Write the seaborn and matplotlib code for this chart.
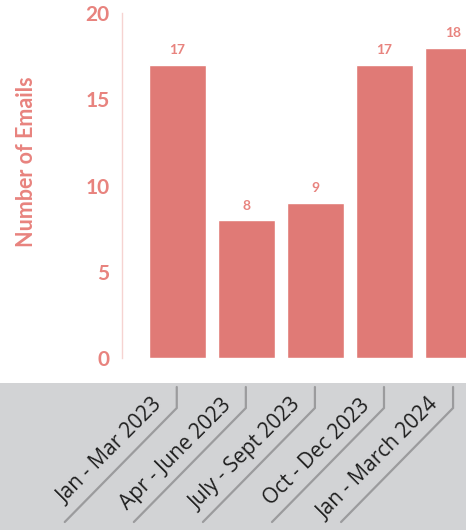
import matplotlib
matplotlib.use("Agg")
import matplotlib.pyplot as plt
import matplotlib.transforms as mtransforms
from matplotlib.lines import Line2D
from matplotlib.patches import Rectangle
import seaborn as sns
import pandas as pd

quarters = ["Jan - Mar 2023", "Apr - June 2023", "July - Sept 2023",
            "Oct - Dec 2023", "Jan - March 2024"]
emails = [17, 8, 9, 17, 18]
y_ticks = [0, 5, 10, 15, 20]

bar_color = "#e07a76"
text_pink = "#e8837e"
axis_pink = "#f6d3d1"
band_gray = "#d2d3d5"
tab_gray = "#9b9b9d"

sns.set_theme(style="white")
plt.rcParams["font.family"] = ["Lato", "DejaVu Sans"]

W, H = 466, 530
fig = plt.figure(figsize=(W / 100, H / 100), dpi=100)

# gray band behind the category labels
fig.add_artist(Rectangle((0, 0), 1, 147 / H, transform=fig.transFigure,
                         facecolor=band_gray, edgecolor="none", zorder=0))

ax = fig.add_axes([122 / W, (H - 358) / H, (W - 122) / W, 345 / H])
ax.patch.set_alpha(0)

df = pd.DataFrame({"quarter": quarters, "emails": emails})
sns.barplot(data=df, x="quarter", y="emails", color=bar_color, saturation=1,
            width=0.83, ax=ax)

ax.set_xlim(-0.8, 4.18)
ax.set_ylim(0, 20)
ax.set_yticks(y_ticks)
ax.set_yticklabels([str(v) for v in y_ticks])
ax.tick_params(axis="y", direction="in", length=16, width=1, color=axis_pink,
               labelcolor=text_pink, labelsize=15, pad=9)
for lab in ax.get_yticklabels():
    lab.set_fontweight("bold")
ax.tick_params(axis="x", length=0, labelbottom=False)
ax.set_xlabel("")
ax.set_ylabel("Number of Emails", color=text_pink, fontsize=15.5,
              fontweight="bold")
ax.yaxis.set_label_coords(-0.247, 0.57)

for side in ["top", "right", "bottom"]:
    ax.spines[side].set_visible(False)
ax.spines["left"].set_color(axis_pink)
ax.spines["left"].set_linewidth(1)

ax.bar_label(ax.containers[0], labels=[str(v) for v in emails], padding=6,
             color=text_pink, fontsize=10, fontweight="bold", clip_on=False)

# tab-style label markers under each bar
for i, q in enumerate(quarters):
    anchor = mtransforms.Affine2D() + mtransforms.ScaledTranslation(i, 0, ax.transData)
    fig.add_artist(Line2D([-0.5, -0.5, -112.5], [-29, -50, -164],
                          transform=anchor, color=tab_gray, lw=1.6,
                          solid_joinstyle="miter", zorder=2))
    ax.annotate(q, xy=(i, 0), xycoords="data", xytext=(-14, -48),
                textcoords="offset pixels", rotation=45, rotation_mode="anchor",
                ha="right", va="baseline", fontsize=15, color="#1e1e1e",
                family=["Open Sans", "DejaVu Sans"], annotation_clip=False)

fig.savefig("out.png", dpi=100)
